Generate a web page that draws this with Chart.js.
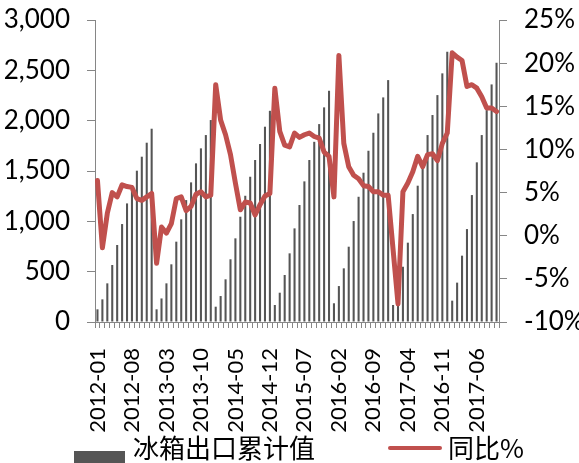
<!DOCTYPE html>
<html>
<head>
<meta charset="utf-8">
<script src="https://cdn.jsdelivr.net/npm/chart.js@4/dist/chart.umd.min.js"></script>
<style>
  html, body { margin: 0; padding: 0; overflow: hidden; background: #ffffff; }
  canvas { display: block; }
</style>
</head>
<body>
<canvas id="chart" width="579" height="471"></canvas>
<script>
// Month labels along the x axis (only every 7th one is printed)
const months = [
  '2012-01','2012-02','2012-03','2012-04','2012-05','2012-06','2012-07','2012-08','2012-09','2012-10','2012-11','2012-12',
  '2013-01','2013-02','2013-03','2013-04','2013-05','2013-06','2013-07','2013-08','2013-09','2013-10','2013-11','2013-12',
  '2014-01','2014-02','2014-03','2014-04','2014-05','2014-06','2014-07','2014-08','2014-09','2014-10','2014-11','2014-12',
  '2015-01','2015-02','2015-03','2015-04','2015-05','2015-06','2015-07','2015-08','2015-09','2015-10','2015-11','2015-12',
  '2016-01','2016-02','2016-03','2016-04','2016-05','2016-06','2016-07','2016-08','2016-09','2016-10','2016-11','2016-12',
  '2017-01','2017-02','2017-03','2017-04','2016-05','2016-06','2016-07','2016-08','2016-09','2016-10','2016-11','2016-12',
  '2017-01','2017-02','2017-03','2017-04','2017-05','2017-06','2017-07','2017-08','2017-09','2017-10'
];

// Cumulative refrigerator exports (万台)
const exportCumulative = [
  126, 225, 384, 566, 765, 973, 1178, 1360, 1503, 1642, 1781, 1920,
  126, 234, 384, 573, 798, 1020, 1211, 1387, 1576, 1725, 1857, 2006,
  152, 258, 424, 623, 831, 1046, 1254, 1443, 1609, 1768, 1940, 2098,
  169, 291, 467, 682, 930, 1162, 1397, 1609, 1790, 1966, 2132, 2297,
  186, 357, 533, 748, 1003, 1244, 1483, 1701, 1880, 2072, 2231, 2403,
  169, 357, 549, 788, 1072, 1354, 1569, 1857, 2056, 2254, 2470, 2684,
  212, 391, 659, 923, 1261, 1586, 1857, 2105, 2360, 2575
];

// Year-on-year growth (%)
const yoyGrowth = [
  6.4, -1.4, 2.6, 5.0, 4.5, 5.9, 5.7, 5.6, 4.3, 4.1, 4.5, 4.9,
  -3.2, 1.0, 0.3, 1.4, 4.3, 4.5, 2.9, 3.4, 4.8, 5.1, 4.5, 4.7,
  17.5, 13.4, 11.7, 9.4, 6.1, 3.0, 3.9, 3.8, 2.4, 3.6, 4.6, 4.9,
  17.1, 12.1, 10.5, 10.3, 11.9, 11.4, 11.7, 11.9, 11.5, 11.3, 9.7, 9.2,
  4.5, 20.9, 10.7, 8.0, 7.0, 6.6, 5.8, 5.7, 5.1, 5.1, 4.7, 4.7,
  -1.6, -7.9, 5.1, 6.1, 7.4, 9.2, 8.0, 9.4, 9.5, 8.7, 10.7, 11.9,
  21.2, 20.7, 20.3, 17.3, 17.5, 17.1, 16.1, 14.8, 14.8, 14.4
];

const seriesNames = ['冰箱出口累计值', '同比%'];
const labelEvery = 7;

const BAR_COLOR = '#555555';
const LINE_COLOR = '#C0504D';
const AXIS_COLOR = '#868686';
const TICK_FONT = { family: 'Lato', size: 26 };

// Legend keys, drawn into small canvases and used as point styles.
// Each key canvas is centred on its legend slot, so the visible part is
// placed at the right end of the canvas, just before the label text.
function makeKey(width, height, paint) {
  const c = document.createElement('canvas');
  c.width = width;
  c.height = height;
  paint(c.getContext('2d'));
  return c;
}
const barKey = makeKey(127, 36, g => {
  g.fillStyle = BAR_COLOR;
  g.fillRect(76, 21, 51, 15);
});
const lineKey = makeKey(131, 8, g => {
  g.strokeStyle = LINE_COLOR;
  g.lineWidth = 4;
  g.lineCap = 'round';
  g.beginPath();
  g.moveTo(79, 4);
  g.lineTo(129, 4);
  g.stroke();
});

// Fixed box size for a vertical axis; only the top label needs headroom.
function fixVerticalAxis(width) {
  return function (scale) {
    scale.width = width;
    scale.paddingTop = 13;
    scale.paddingBottom = 0;
  };
}

new Chart(document.getElementById('chart'), {
  data: {
    labels: months,
    datasets: [
      {
        type: 'bar',
        label: seriesNames[0],
        data: exportCumulative,
        backgroundColor: BAR_COLOR,
        borderWidth: 0,
        categoryPercentage: 1.0,
        barPercentage: 0.42,
        yAxisID: 'y',
        order: 1
      },
      {
        type: 'line',
        label: seriesNames[1],
        data: yoyGrowth,
        borderColor: LINE_COLOR,
        backgroundColor: LINE_COLOR,
        borderWidth: 5,
        borderJoinStyle: 'round',
        borderCapStyle: 'round',
        pointRadius: 0,
        tension: 0,
        yAxisID: 'y1',
        order: 0
      }
    ]
  },
  options: {
    responsive: false,
    animation: false,
    events: [],
    layout: { padding: { left: 0, right: 0, top: 20, bottom: 0 } },
    scales: {
      x: {
        type: 'category',
        offset: true,
        grid: {
          display: true,
          offset: true,
          drawOnChartArea: false,
          drawTicks: true,
          tickLength: 6,
          color: AXIS_COLOR
        },
        border: { display: true, color: AXIS_COLOR, width: 1 },
        ticks: {
          autoSkip: false,
          maxRotation: 90,
          minRotation: 90,
          padding: 20,
          color: '#000000',
          font: { family: 'Lato', size: 22 },
          callback: function (value, index) {
            return index % labelEvery === 0 ? this.getLabelForValue(value) : '';
          }
        },
        afterFit: function (scale) { scale.height = 110; }
      },
      y: {
        position: 'left',
        min: 0,
        max: 3000,
        grid: {
          display: true,
          drawOnChartArea: false,
          drawTicks: true,
          tickLength: 8,
          color: AXIS_COLOR
        },
        border: { display: true, color: AXIS_COLOR, width: 1 },
        ticks: {
          stepSize: 500,
          padding: 17,
          color: '#000000',
          font: TICK_FONT,
          callback: v => v.toLocaleString('en-US')
        },
        afterFit: fixVerticalAxis(95)
      },
      y1: {
        position: 'right',
        min: -10,
        max: 25,
        grid: {
          display: true,
          drawOnChartArea: false,
          drawTicks: true,
          tickLength: 8,
          color: AXIS_COLOR
        },
        border: { display: true, color: AXIS_COLOR, width: 1 },
        ticks: {
          stepSize: 5,
          padding: 17,
          color: '#000000',
          font: TICK_FONT,
          callback: v => v + '%'
        },
        afterFit: fixVerticalAxis(80)
      }
    },
    plugins: {
      tooltip: { enabled: false },
      legend: {
        display: true,
        position: 'bottom',
        align: 'start',
        labels: {
          usePointStyle: true,
          pointStyleWidth: 117,
          boxHeight: 8,
          padding: 3,
          color: '#262626',
          font: { family: "'Noto Sans CJK SC'", size: 26 },
          generateLabels: function () {
            return [
              {
                text: seriesNames[0],
                fillStyle: BAR_COLOR,
                strokeStyle: BAR_COLOR,
                lineWidth: 0,
                pointStyle: barKey,
                hidden: false,
                datasetIndex: 0
              },
              {
                text: seriesNames[1],
                fillStyle: LINE_COLOR,
                strokeStyle: LINE_COLOR,
                lineWidth: 0,
                pointStyle: lineKey,
                hidden: false,
                datasetIndex: 1
              }
            ];
          }
        }
      }
    }
  }
});
</script>
</body>
</html>
